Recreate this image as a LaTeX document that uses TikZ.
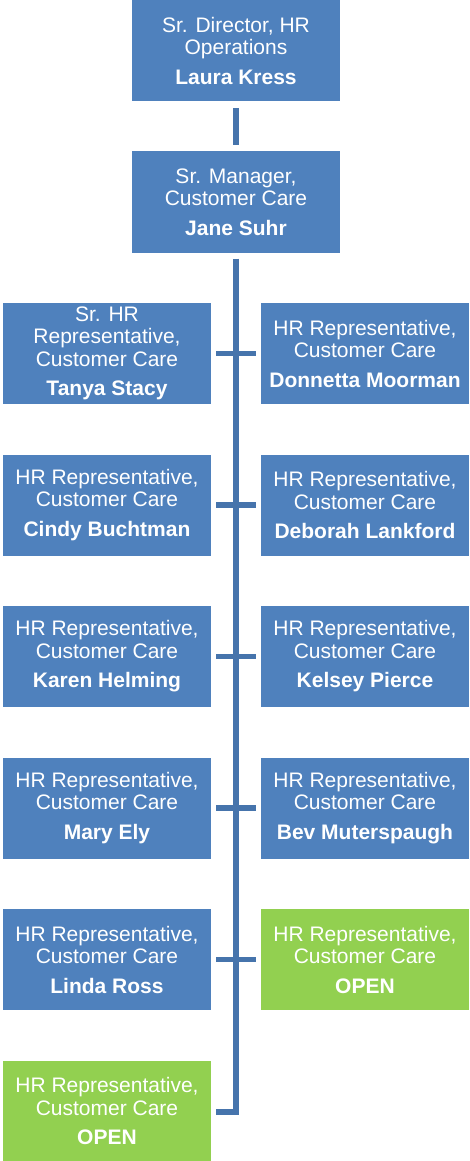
\documentclass[tikz,border=0pt]{standalone}
\usepackage{fontspec}
\setmainfont{Liberation Sans}
\definecolor{boxblue}{HTML}{4F81BD}
\definecolor{boxgreen}{HTML}{92D050}
\definecolor{linkblue}{HTML}{4674AC}
\begin{document}
\begin{tikzpicture}[x=1pt,y=-1pt,
  box/.style={rectangle, fill=boxblue, text=white, minimum width=208pt, minimum height=101pt, inner sep=0pt, align=center, font=\fontsize{21}{22.5}\selectfont},
  openbox/.style={box, fill=boxgreen},
  conn/.style={draw=linkblue, line width=5.5pt, line join=miter},
  tick/.style={conn, shorten <=5pt, shorten >=5pt}]
\useasboundingbox (0,0) rectangle (469,1161);
\node[box] (dir) at (236,50.5) {Sr. Director, HR\\Operations\\[7pt]\textbf{Laura Kress}};
\node[box] (mgr) at (236,202) {Sr. Manager,\\Customer Care\\[7pt]\textbf{Jane Suhr}};
\node[box] (l1) at (107,353.5) {Sr. HR\\Representative,\\Customer Care\\[7pt]\textbf{Tanya Stacy}};
\node[box] (r1) at (365,353.5) {HR Representative,\\Customer Care\\[7pt]\textbf{Donnetta Moorman}};
\node[box] (l2) at (107,505) {HR Representative,\\Customer Care\\[7pt]\textbf{Cindy Buchtman}};
\node[box] (r2) at (365,505) {HR Representative,\\Customer Care\\[7pt]\textbf{Deborah Lankford}};
\node[box] (l3) at (107,656.5) {HR Representative,\\Customer Care\\[7pt]\textbf{Karen Helming}};
\node[box] (r3) at (365,656.5) {HR Representative,\\Customer Care\\[7pt]\textbf{Kelsey Pierce}};
\node[box] (l4) at (107,808) {HR Representative,\\Customer Care\\[7pt]\textbf{Mary Ely}};
\node[box] (r4) at (365,808) {HR Representative,\\Customer Care\\[7pt]\textbf{Bev Muterspaugh}};
\node[box] (l5) at (107,959.5) {HR Representative,\\Customer Care\\[7pt]\textbf{Linda Ross}};
\node[openbox] (r5) at (365,959.5) {HR Representative,\\Customer Care\\[7pt]\textbf{OPEN}};
\node[openbox] (l6) at (107,1111) {HR Representative,\\Customer Care\\[7pt]\textbf{OPEN}};
\draw[conn, shorten <=7pt, shorten >=6pt] (dir.south) -- (mgr.north);
\coordinate (tb) at (236,1112);
\draw[conn, shorten <=6pt, shorten >=5pt] (mgr.south) -- (tb) -- (tb -| l6.east);
\draw[tick] (l1.east) -- (r1.west);
\draw[tick] (l2.east) -- (r2.west);
\draw[tick] (l3.east) -- (r3.west);
\draw[tick] (l4.east) -- (r4.west);
\draw[tick] (l5.east) -- (r5.west);
\end{tikzpicture}
\end{document}
